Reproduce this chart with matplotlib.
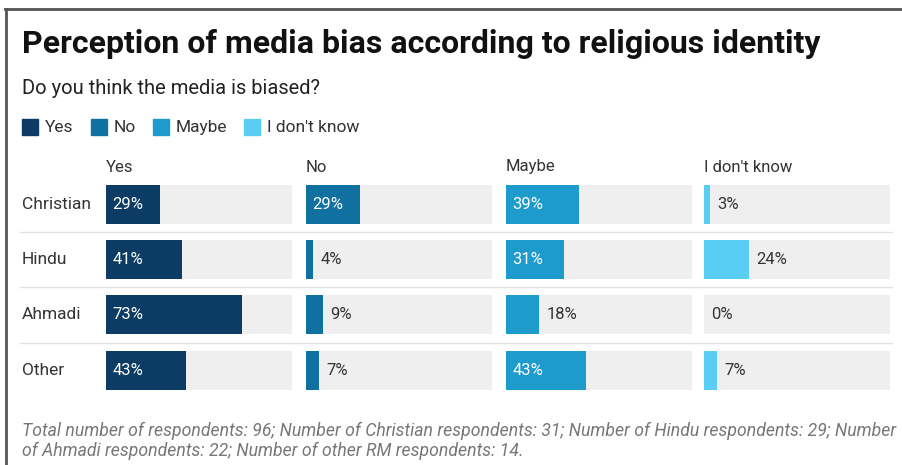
import matplotlib.pyplot as plt
from matplotlib.lines import Line2D
from matplotlib.patches import Rectangle

# data
religions = ["Christian", "Hindu", "Ahmadi", "Other"]
answers = ["Yes", "No", "Maybe", "I don't know"]
yes = [29, 41, 73, 43]
no = [29, 4, 9, 7]
maybe = [39, 31, 18, 43]
dont_know = [3, 24, 0, 7]
series = [yes, no, maybe, dont_know]
colors = ["#0c3c64", "#10709f", "#1e9bcd", "#5acdf5"]

W, H = 902, 465
plt.rcParams['font.family'] = ['Roboto', 'DejaVu Sans']
fig = plt.figure(figsize=(W / 100, H / 100), dpi=100)
fig.patch.set_facecolor("white")
renderer = fig.canvas.get_renderer()

def fx(px):
    return px / W

def fy(py):
    return 1 - py / H

# frame on top and left
fig.add_artist(Line2D([fx(5), 1], [fy(9), fy(9)], color="#555555", lw=2))
fig.add_artist(Line2D([fx(6), fx(6)], [fy(9), 0], color="#555555", lw=2))

fig.text(fx(22), fy(44), "Perception of media bias according to religious identity",
         fontsize=23, fontweight="bold", color="#111111", va="center")
fig.text(fx(22), fy(88), "Do you think the media is biased?",
         fontsize=14.5, color="#222222", va="center")

# legend
lx = 22
for ans, col in zip(answers, colors):
    fig.add_artist(Rectangle((fx(lx), fy(135)), fx(16), 16 / H, color=col))
    t = fig.text(fx(lx + 23), fy(127), ans, fontsize=12.5, color="#333333", va="center")
    lx += 23 + t.get_window_extent(renderer).width + 17

# panels
row_step = 55.2
top_px = 204.5 - row_step / 2
ax_h = row_step * 4
lefts = [106, 306, 506, 704]
pw = 186
for i, (ans, vals, col) in enumerate(zip(answers, series, colors)):
    ax = fig.add_axes([fx(lefts[i]), fy(top_px + ax_h), fx(pw), ax_h / H])
    ypos = list(range(len(religions)))
    ax.barh(ypos, [100] * len(religions), height=0.71, color="#efefef")
    ax.barh(ypos, vals, height=0.71, color=col)
    for y, v in zip(ypos, vals):
        if v >= 25:
            ax.text(3.5, y, f"{v}%", color="white", fontsize=12, va="center")
        else:
            ax.text(v + 4, y, f"{v}%", color="#333333", fontsize=12, va="center")
    ax.set_xlim(0, 100)
    ax.set_ylim(3.5, -0.5)
    ax.axis("off")
    fig.text(fx(lefts[i]), fy(167), ans, fontsize=12, color="#333333", va="center")

# row labels and separators
for j, rel in enumerate(religions):
    cy = 204.5 + j * row_step
    fig.text(fx(22), fy(cy), rel, fontsize=12.5, color="#333333", va="center")
    if j < len(religions) - 1:
        sy = cy + row_step / 2
        fig.add_artist(Line2D([fx(20), fx(892)], [fy(sy), fy(sy)], color="#e2e2e2", lw=1))

fig.text(fx(22), fy(431), "Total number of respondents: 96; Number of Christian respondents: 31; "
         "Number of Hindu respondents: 29; Number", fontsize=12.7, style="italic",
         color="#777777", va="center")
fig.text(fx(22), fy(451), "of Ahmadi respondents: 22; Number of other RM respondents: 14.",
         fontsize=12.7, style="italic", color="#777777", va="center")

fig.savefig("out.png", dpi=100)
